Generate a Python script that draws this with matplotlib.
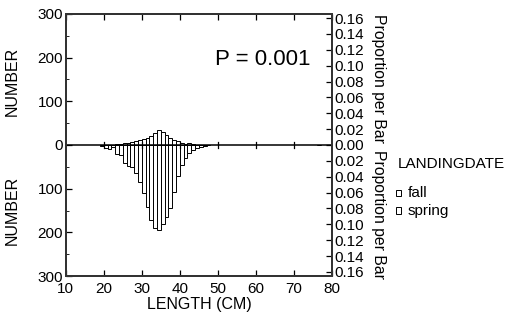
import numpy as np
import matplotlib.pyplot as plt
from matplotlib.ticker import FixedLocator, FuncFormatter, MultipleLocator

plt.rcParams['font.family'] = ['Liberation Sans', 'DejaVu Sans']

# 1-cm length bins (left edges)
bin_starts = list(range(19, 48)) + [76]
fall = [0, 1, 1, 1, 2, 3, 4, 5, 7, 9, 11, 13, 16, 20, 28, 34, 30, 24, 17, 11, 8,
        5, 3, 4, 2, 1, 1, 1, 1, 1]
spring = [2, 8, 10, 5, 20, 23, 42, 47, 50, 65, 84, 110, 143, 172, 191, 195, 180,
          164, 145, 107, 70, 45, 30, 19, 11, 8, 4, 2, 1, 1]

count_ticks = [-300, -200, -100, 0, 100, 200, 300]
prop_ticks = [-0.16, -0.14, -0.12, -0.10, -0.08, -0.06, -0.04, -0.02, 0.0,
              0.02, 0.04, 0.06, 0.08, 0.10, 0.12, 0.14, 0.16]
x_ticks = [10, 20, 30, 40, 50, 60, 70, 80]

fig = plt.figure(figsize=(5.1, 3.24), dpi=100)
ax = fig.add_axes([0.129, 0.148, 0.522, 0.809])

ax.bar(bin_starts, fall, width=1, align='edge', color='white', edgecolor='black', linewidth=0.7)
ax.bar(bin_starts, [-v for v in spring], width=1, align='edge', color='white',
       edgecolor='black', linewidth=0.7)
ax.axhline(0, color='black', linewidth=1.1)
for xt in x_ticks[1:-1]:
    ax.plot([xt, xt], [-6, 6], color='black', linewidth=0.9)

ax.set_xlim(10, 80)
ax.set_ylim(-300, 300)
ax.set_xticks(x_ticks)
ax.set_yticks(count_ticks)
ax.yaxis.set_minor_locator(MultipleLocator(50))
ax.yaxis.set_major_formatter(FuncFormatter(lambda v, p: '%d' % abs(v)))
ax.tick_params(axis='both', direction='in', labelsize=11, length=4, width=0.9,
               top=True, pad=2)
ax.tick_params(axis='x', pad=4)
ax.tick_params(axis='y', which='minor', direction='in', length=2)
for s in ax.spines.values():
    s.set_linewidth(1.4)
    s.set_color('#333333')

ax2 = ax.twinx()
ax2.set_ylim(-0.1652, 0.1652)
ax2.yaxis.set_major_locator(FixedLocator(prop_ticks))
ax2.yaxis.set_major_formatter(FuncFormatter(lambda v, p: '%.2f' % abs(v)))
ax2.tick_params(axis='y', direction='in', labelsize=11, length=4, width=0.9, pad=2)
for s in ax2.spines.values():
    s.set_linewidth(1.4)
    s.set_color('#333333')

ax.set_xlabel('LENGTH (CM)', fontsize=11.5, labelpad=1)
fig.text(0.024, 0.75, 'NUMBER', rotation=90, ha='center', va='center', fontsize=11.5)
fig.text(0.024, 0.35, 'NUMBER', rotation=90, ha='center', va='center', fontsize=11.5)
fig.text(0.742, 0.757, 'Proportion per Bar', rotation=270, ha='center', va='center', fontsize=11.3)
fig.text(0.742, 0.338, 'Proportion per Bar', rotation=270, ha='center', va='center', fontsize=11.3)

ax.text(0.92, 0.825, 'P = 0.001', transform=ax.transAxes, ha='right', va='center', fontsize=16)

fig.text(0.78, 0.495, 'LANDINGDATE', ha='left', va='center', fontsize=11)
for ypos, lab in [(0.405, 'fall'), (0.350, 'spring')]:
    fig.patches.append(plt.Rectangle((0.776, ypos - 0.010), 0.011, 0.02, transform=fig.transFigure,
                                     facecolor='white', edgecolor='black', linewidth=0.7))
    fig.text(0.80, ypos, lab, ha='left', va='center', fontsize=11)

fig.savefig('out.png', dpi=100)
